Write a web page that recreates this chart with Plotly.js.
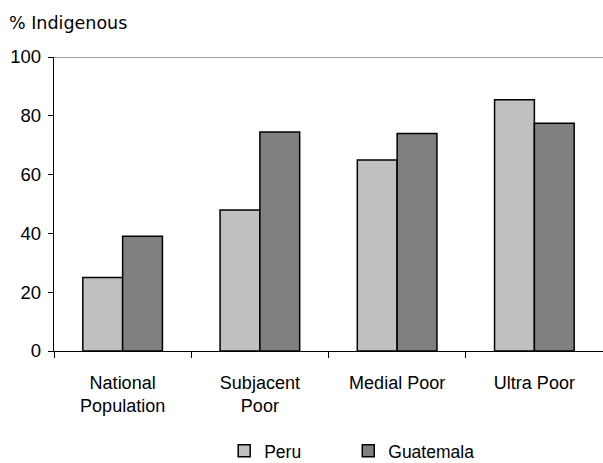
<!DOCTYPE html>
<html>
<head>
<meta charset="utf-8">
<script src="https://cdn.plot.ly/plotly-3.0.1.min.js"></script>
<style>html,body{margin:0;padding:0;background:#fff;}#chart{width:603px;height:463px;}</style>
</head>
<body>
<div id="chart"></div>
<script>
var categories = ["National<br>Population", "Subjacent<br>Poor", "Medial Poor", "Ultra Poor"];
var peru = [25, 48, 65, 85.5];
var guatemala = [39, 74.5, 74, 77.5];
var yTicks = [0, 20, 40, 60, 80, 100];

var font = {family: "Liberation Sans, Arial, sans-serif", size: 18, color: "#000"};
var legendFont = {family: "Liberation Sans, Arial, sans-serif", size: 17.5, color: "#000"};

var data = [
  {type: "bar", name: "Peru", x: categories, y: peru, legend: "legend",
   marker: {color: "#c0c0c0", line: {color: "#000", width: 1.5}}},
  {type: "bar", name: "Guatemala", x: categories, y: guatemala, legend: "legend2",
   marker: {color: "#808080", line: {color: "#000", width: 1.5}}}
];

var layout = {
  width: 603, height: 463,
  margin: {l: 54, r: 0, t: 57, b: 112},
  paper_bgcolor: "#fff", plot_bgcolor: "#fff",
  barmode: "group", bargap: 0.42, bargroupgap: 0,
  font: font,
  showlegend: true,
  legend: {orientation: "h", x: 0.31, xanchor: "left", xref: "paper",
           y: 0.026, yanchor: "middle", yref: "container",
           font: legendFont, itemwidth: 30, bgcolor: "rgba(0,0,0,0)"},
  legend2: {orientation: "h", x: 0.536, xanchor: "left", xref: "paper",
           y: 0.026, yanchor: "middle", yref: "container",
           font: legendFont, itemwidth: 30, bgcolor: "rgba(0,0,0,0)"},
  xaxis: {
    type: "category", showline: true, linecolor: "#000", linewidth: 1.2,
    ticks: "outside", tickson: "boundaries", ticklen: 6, tickcolor: "#000",
    ticklabelstandoff: 15, automargin: false,
    showgrid: false, zeroline: false, tickfont: font, fixedrange: true
  },
  yaxis: {
    range: [0, 100], tickvals: yTicks, ticktext: yTicks.map(String),
    showline: true, linecolor: "#000", linewidth: 1.2,
    ticks: "outside", ticklen: 5, tickcolor: "#000", ticklabelstandoff: 3,
    automargin: false,
    showgrid: false, zeroline: false,
    tickfont: {family: "Liberation Sans, Arial, sans-serif", size: 18.5}, fixedrange: true
  },
  shapes: [{type: "line", xref: "paper", yref: "y", x0: 0, x1: 1, y0: 100, y1: 100,
            line: {color: "#808080", width: 1.5}}],
  annotations: [{text: "% Indigenous", xref: "paper", yref: "paper", x: -0.086, y: 1.115,
                 xanchor: "left", yanchor: "middle", showarrow: false,
                 font: {family: "DejaVu Sans, Verdana, sans-serif", size: 17.5, color: "#000"}}]
};

Plotly.newPlot("chart", data, layout, {displayModeBar: false, staticPlot: true});
</script>
</body>
</html>
